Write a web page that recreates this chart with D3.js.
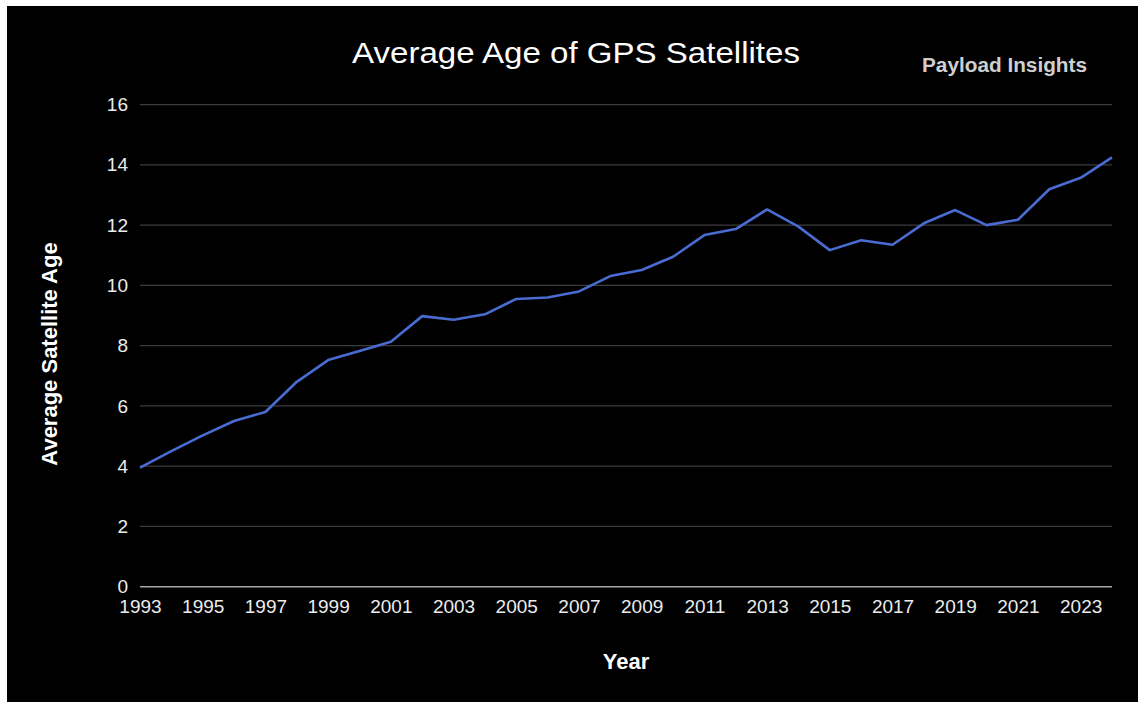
<!DOCTYPE html>
<html>
<head>
<meta charset="utf-8">
<script src="https://cdn.jsdelivr.net/npm/d3@7"></script>
<style>
  html, body { margin: 0; padding: 0; background: #ffffff; }
  svg { display: block; }
  text { font-family: "Liberation Sans", Arial, Helvetica, sans-serif; }
</style>
</head>
<body>
<svg id="chart" width="1138" height="702"></svg>
<script>
const years = [1993,1994,1995,1996,1997,1998,1999,2000,2001,2002,2003,2004,2005,2006,2007,2008,2009,2010,2011,2012,2013,2014,2015,2016,2017,2018,2019,2020,2021,2022,2023,2024];
const avgAge = [3.95,4.5,5.02,5.5,5.8,6.8,7.52,7.82,8.13,8.98,8.86,9.04,9.55,9.6,9.8,10.31,10.51,10.95,11.67,11.87,12.52,11.95,11.17,11.5,11.35,12.06,12.5,12.0,12.18,13.19,13.57,14.25];
const yTicks = [0,2,4,6,8,10,12,14,16];
const xTickYears = [1993,1995,1997,1999,2001,2003,2005,2007,2009,2011,2013,2015,2017,2019,2021,2023];
const titleText = "Average Age of GPS Satellites";
const brandText = "Payload Insights";
const xTitle = "Year";
const yTitle = "Average Satellite Age";

const W = 1138, H = 702;
const svg = d3.select("#chart");

// black panel
svg.append("rect").attr("x", 7).attr("y", 6).attr("width", W - 7).attr("height", H - 6).attr("fill", "#000");

const x = d3.scaleLinear().domain([1993, 2024]).range([140, 1112]);
const y = d3.scaleLinear().domain([0, 16]).range([586.7, 104.6]);

// gridlines
const grid = svg.append("g");
grid.selectAll("line").data(yTicks).join("line")
  .attr("x1", x.range()[0]).attr("x2", x.range()[1])
  .attr("y1", d => y(d)).attr("y2", d => y(d))
  .attr("stroke", d => d === 0 ? "#a8a8a8" : "#3d3d3d")
  .attr("stroke-width", d => d === 0 ? 1.4 : 1.2);

// y axis labels
const yAxis = svg.append("g").attr("transform", `translate(${x.range()[0]},0)`)
  .call(d3.axisLeft(y).tickValues(yTicks).tickSize(0).tickPadding(12).tickFormat(d3.format("d")));
yAxis.select(".domain").remove();
yAxis.selectAll("text").attr("fill", "#ececec").attr("font-size", 19)
  .style("font-family", "'Liberation Sans', Arial, sans-serif");

// x axis labels
const xAxis = svg.append("g").attr("transform", `translate(0,${y(0)})`)
  .call(d3.axisBottom(x).tickValues(xTickYears).tickSize(0).tickPadding(13).tickFormat(d3.format("d")));
xAxis.select(".domain").remove();
xAxis.selectAll("text").attr("fill", "#ececec").attr("font-size", 19)
  .style("font-family", "'Liberation Sans', Arial, sans-serif");

// line
const line = d3.line().x((d, i) => x(years[i])).y(d => y(d));
svg.append("path").datum(avgAge)
  .attr("d", line)
  .attr("fill", "none")
  .attr("stroke", "#4a6bd1")
  .attr("stroke-width", 2.6)
  .attr("stroke-linejoin", "round");

// title
svg.append("text").attr("x", 576).attr("y", 63.3).attr("text-anchor", "middle")
  .attr("fill", "#ffffff").attr("font-size", 30)
  .attr("textLength", 448).attr("lengthAdjust", "spacingAndGlyphs")
  .text(titleText);

// brand
svg.append("text").attr("x", 922).attr("y", 71.5)
  .attr("fill", "#cfcfcf").attr("font-size", 21).attr("font-weight", "bold")
  .attr("textLength", 165).attr("lengthAdjust", "spacingAndGlyphs")
  .text(brandText);

// x title
svg.append("text").attr("x", 626).attr("y", 669.3).attr("text-anchor", "middle")
  .attr("fill", "#ffffff").attr("font-size", 22).attr("font-weight", "bold")
  .text(xTitle);

// y title
svg.append("text").attr("transform", "translate(57,354) rotate(-90)").attr("text-anchor", "middle")
  .attr("fill", "#ffffff").attr("font-size", 22).attr("font-weight", "bold")
  .text(yTitle);
</script>
</body>
</html>
